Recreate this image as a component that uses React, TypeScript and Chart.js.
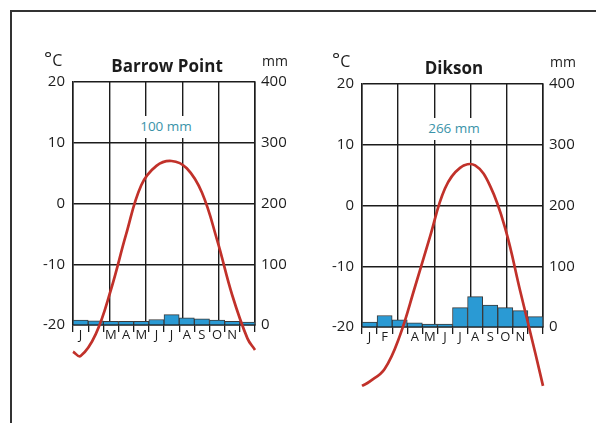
import React, { useEffect, useRef } from 'react';
import { Chart, registerables } from 'chart.js';

Chart.register(...registerables);

// Month slots on a linear 0..12 axis; labels sit at the middle of each month.
const monthCentres = [0.5, 1.5, 2.5, 3.5, 4.5, 5.5, 6.5, 7.5, 8.5, 9.5, 10.5, 11.5];
// Temperature curve is sampled at the start of the year, each month centre and the end of the year.
const curvePositions = [0, 0.5, 1.5, 2.5, 3.5, 4.5, 5.5, 6.5, 7.5, 8.5, 9.5, 10.5, 11.5, 12];

const barrowMonths = ['J', '', 'M', 'A', 'M', 'J', 'J', 'A', 'S', 'O', 'N', ''];
const diksonMonths = ['J', 'F', '', 'A', 'M', 'J', 'J', 'A', 'S', 'O', 'N', ''];

// °C
const barrowTemp = [-24.4, -25.1, -21.5, -14.2, -5.1, 3.0, 6.2, 7.0, 5.8, 1.8, -6.0, -15.1, -22.2, -24.1];
const diksonTemp = [-29.7, -29.0, -26.9, -21.5, -13.5, -5.2, 2.8, 6.2, 6.6, 3.2, -3.8, -14.2, -24.4, -29.7];

// mm per month
const barrowPrecip = [8, 7, 6, 6, 6, 9, 17, 12, 10, 8, 6, 5];
const diksonPrecip = [8, 19, 12, 7, 5, 5, 32, 50, 36, 32, 27, 17];

const tempRange = { min: -20, max: 20, step: 10 };
const precipRange = { min: 0, max: 400, step: 100 };

const FONT = '"Open Sans", "DejaVu Sans", sans-serif';
const INK = '#1c1c1c';

type ClimographProps = {
  temps: number[];
  precip: number[];
  months: string[];
  left: number;
  top: number;
  plotWidth: number;
  rightAxisWidth: number;
};

function Climograph({ temps, precip, months, left, top, plotWidth, rightAxisWidth }: ClimographProps) {
  const ref = useRef<HTMLCanvasElement>(null);
  const width = 53 + plotWidth + rightAxisWidth;
  const height = 340;

  useEffect(() => {
    const chart = new Chart(ref.current!, {
      type: 'bar',
      data: {
        datasets: [
          {
            type: 'line',
            data: curvePositions.map((x, i) => ({ x, y: temps[i] })),
            xAxisID: 'x',
            yAxisID: 'y',
            borderColor: '#c1312a',
            borderWidth: 2.7,
            pointRadius: 0,
            tension: 0.4,
            clip: false as any,
            order: 0,
          } as any,
          {
            type: 'bar',
            data: monthCentres.map((x, i) => ({ x, y: precip[i] })),
            xAxisID: 'x',
            yAxisID: 'y2',
            backgroundColor: '#2a9ad4',
            borderColor: '#3a3a3a',
            borderWidth: 1,
            barPercentage: 1,
            categoryPercentage: 1,
            order: 1,
          } as any,
        ],
      },
      options: {
        responsive: false,
        animation: false,
        events: [],
        layout: { padding: { top: 22, left: 0, right: 0, bottom: 40 } },
        plugins: { legend: { display: false }, tooltip: { enabled: false }, title: { display: false } },
        scales: {
          x: {
            type: 'linear',
            position: 'bottom',
            min: 0,
            max: 12,
            offset: false,
            afterBuildTicks: (scale: any) => {
              scale.ticks = monthCentres.map((v) => ({ value: v }));
            },
            afterFit: (scale: any) => {
              scale.height = 35;
            },
            ticks: {
              autoSkip: false,
              maxRotation: 0,
              padding: -5,
              color: INK,
              font: { family: FONT, size: 13 },
              callback: (_v: any, i: number) => months[i],
            },
            grid: {
              offset: true,
              drawOnChartArea: false,
              drawTicks: true,
              tickLength: 7,
              color: INK,
              lineWidth: 1.3,
            },
            border: { display: true, color: INK, width: 1.5 },
          },
          x2: {
            type: 'linear',
            position: 'top',
            min: 0,
            max: 12,
            afterFit: (scale: any) => {
              scale.height = 0;
            },
            ticks: { stepSize: 3, display: false },
            grid: { drawOnChartArea: true, drawTicks: false, color: INK, lineWidth: 1.4 },
            border: { display: false },
          },
          y: {
            type: 'linear',
            position: 'left',
            min: tempRange.min,
            max: tempRange.max,
            afterFit: (scale: any) => {
              scale.width = 53;
            },
            ticks: {
              stepSize: tempRange.step,
              padding: 8,
              color: INK,
              font: { family: FONT, size: 15 },
            },
            grid: { color: INK, lineWidth: 1.4, drawTicks: false },
            border: { display: true, color: INK, width: 1.5 },
          },
          y2: {
            type: 'linear',
            position: 'right',
            min: precipRange.min,
            max: precipRange.max,
            afterFit: (scale: any) => {
              scale.width = rightAxisWidth;
            },
            ticks: {
              stepSize: precipRange.step,
              padding: 6,
              color: INK,
              font: { family: FONT, size: 15 },
            },
            grid: { drawOnChartArea: false, drawTicks: false },
            border: { display: true, color: INK, width: 1.5 },
          },
        },
      } as any,
    });
    return () => chart.destroy();
  }, []);

  return (
    <canvas
      ref={ref}
      width={width}
      height={height}
      style={{ position: 'absolute', left, top, width, height }}
    />
  );
}

function Label({
  text,
  left,
  top,
  size,
  bold,
  color,
  centre,
  boxed,
}: {
  text: React.ReactNode;
  left: number;
  top: number;
  size: number;
  bold?: boolean;
  color?: string;
  centre?: boolean;
  boxed?: boolean;
}) {
  return (
    <div
      style={{
        position: 'absolute',
        left,
        top,
        transform: centre ? 'translateX(-50%)' : undefined,
        fontFamily: FONT,
        fontSize: size,
        lineHeight: `${size}px`,
        fontWeight: bold ? 700 : 400,
        color: color ?? INK,
        whiteSpace: 'nowrap',
        background: boxed ? '#fff' : undefined,
        padding: boxed ? '4px 2px' : undefined,
        marginTop: boxed ? -4 : undefined,
      }}
    >
      {text}
    </div>
  );
}

const degC = (
  <span>
    <span style={{ fontSize: 19, position: 'relative', top: -1 }}>°</span>C
  </span>
);

export default function App() {
  return (
    <div style={{ position: 'absolute', left: 0, top: 0, width: 596, height: 423, background: '#fff', overflow: 'hidden' }}>
      {/* page frame */}
      <div
        style={{
          position: 'absolute',
          left: 10,
          top: 10,
          width: 600,
          height: 430,
          borderTop: '2px solid #333',
          borderLeft: '2px solid #333',
        }}
      />

      <Climograph temps={barrowTemp} precip={barrowPrecip} months={barrowMonths} left={20} top={60} plotWidth={182} rightAxisWidth={45} />
      <Climograph temps={diksonTemp} precip={diksonPrecip} months={diksonMonths} left={309} top={62} plotWidth={181} rightAxisWidth={46} />

      <Label text={degC} left={44} top={51} size={16} />
      <Label text="Barrow Point" left={167} top={57} size={17} bold centre />
      <Label text="mm" left={262} top={54} size={14} />
      <Label text="100 mm" left={166} top={120} size={13.5} color="#3a93a9" centre boxed />

      <Label text={degC} left={332} top={52} size={16} />
      <Label text="Dikson" left={454} top={59} size={17} bold centre />
      <Label text="mm" left={550} top={55} size={14} />
      <Label text="266 mm" left={454} top={122} size={13.5} color="#3a93a9" centre boxed />
    </div>
  );
}
